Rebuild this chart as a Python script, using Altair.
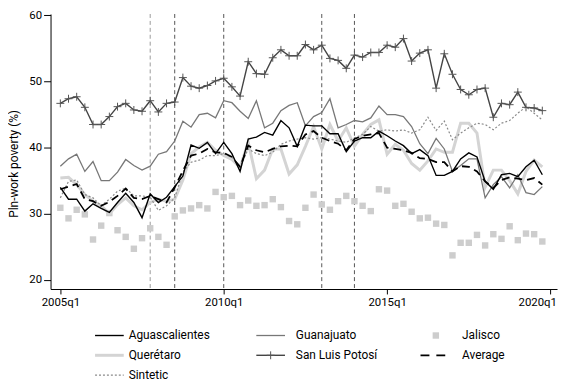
import altair as alt
import pandas as pd

# ---------------- data ----------------
quarters = [f"{y}q{q}" for y in range(2005, 2020) for q in range(1, 5)]
tick_index = [0, 20, 40, 60]
tick_labels = ["2005q1", "2010q1", "2015q1", "2020q1"]
y_ticks = [20, 30, 40, 50, 60]
event_index = [11, 14, 20, 32, 36]
event_colors = ["#9a9a9a", "#555555", "#555555", "#555555", "#555555"]

aguascalientes = [34.0, 32.2, 32.2, 30.4, 31.5, 30.8, 30.2, 31.7, 33.1, 31.7,
                  29.4, 33.0, 31.7, 32.5, 34.1, 35.7, 40.4, 39.9, 40.8, 39.1,
                  40.8, 39.1, 36.4, 41.3, 41.6, 42.3, 41.9, 44.1, 43.0, 40.2,
                  43.4, 43.3, 43.3, 42.1, 42.1, 39.4, 41.0, 41.5, 41.5, 42.5,
                  41.8, 41.0, 40.3, 39.1, 39.7, 38.8, 35.8, 35.8, 36.4, 38.3,
                  39.2, 38.6, 34.9, 33.7, 35.9, 36.1, 35.6, 37.1, 38.1, 35.9]
guanajuato = [37.2, 38.3, 39.0, 36.4, 37.9, 35.0, 35.0, 36.3, 38.2, 37.3,
              36.6, 37.2, 39.0, 39.4, 41.0, 44.0, 43.1, 45.0, 45.2, 44.5,
              47.1, 46.8, 45.5, 44.4, 47.1, 43.0, 43.7, 45.6, 46.4, 46.8,
              43.3, 44.7, 45.3, 47.4, 43.0, 43.5, 44.1, 43.9, 44.5, 46.3,
              45.0, 45.0, 44.7, 43.2, 40.6, 39.1, 41.4, 39.8, 36.4, 37.3,
              38.3, 38.3, 32.4, 34.4, 35.6, 33.9, 35.9, 33.2, 32.9, 34.1]
jalisco = [30.9, 29.3, 30.6, 29.9, 26.1, 28.2, 30.1, 27.5, 26.5, 24.7,
           26.3, 27.8, 26.5, 25.3, 29.6, 30.5, 30.8, 31.3, 30.8, 33.3,
           32.5, 32.7, 31.3, 32.0, 31.2, 31.3, 32.2, 31.0, 28.9, 28.4,
           30.9, 32.9, 31.4, 30.6, 31.9, 32.7, 31.9, 31.2, 30.4, 33.7,
           33.5, 31.2, 31.5, 30.3, 29.3, 29.4, 28.5, 28.3, 23.7, 25.6,
           25.6, 26.8, 25.2, 26.9, 26.2, 28.1, 26.0, 27.0, 26.9, 25.8]
queretaro = [35.4, 35.5, 34.4, 32.9, 31.9, 31.2, 30.0, 31.4, 32.4, 31.2,
             30.6, 31.7, 32.2, 31.9, 32.2, 35.1, 39.1, 40.1, 40.8, 39.6,
             38.8, 38.2, 37.0, 40.8, 35.3, 36.6, 39.8, 39.8, 36.0, 37.4,
             40.2, 43.2, 39.8, 43.5, 41.0, 43.0, 40.2, 42.0, 43.5, 44.2,
             39.0, 40.5, 39.6, 37.6, 36.6, 38.0, 39.8, 39.3, 39.3, 43.7,
             43.7, 42.2, 34.0, 36.6, 36.6, 35.0, 33.0, 36.4, 38.1, 37.1]
san_luis_potosi = [46.7, 47.4, 47.7, 46.1, 43.5, 43.5, 44.7, 46.2, 46.7, 45.7,
                   45.5, 47.1, 45.4, 46.7, 46.9, 50.6, 49.3, 49.0, 49.4, 50.1,
                   50.5, 49.2, 47.8, 53.0, 51.2, 51.1, 53.6, 54.8, 53.9, 53.9,
                   55.6, 54.8, 55.5, 53.5, 53.2, 52.0, 54.0, 53.7, 54.4, 54.4,
                   55.5, 55.2, 56.5, 53.1, 54.3, 54.8, 49.0, 54.2, 51.1, 48.8,
                   48.0, 48.8, 49.0, 44.6, 46.7, 46.5, 48.4, 46.1, 46.0, 45.6]
average = [33.7, 34.1, 34.5, 32.2, 31.9, 31.2, 31.8, 32.7, 33.8, 32.4,
           32.2, 32.7, 32.2, 31.7, 34.0, 36.5, 38.8, 39.1, 39.8, 39.3,
           39.2, 38.6, 37.1, 40.3, 39.6, 39.3, 39.8, 40.2, 40.3, 40.2,
           42.0, 42.5, 41.5, 41.0, 40.6, 39.6, 41.3, 41.8, 42.0, 42.2,
           40.0, 39.8, 39.6, 39.2, 38.4, 38.3, 37.8, 37.8, 36.4, 37.2,
           37.1, 36.4, 34.9, 33.9, 35.1, 35.5, 35.3, 35.1, 35.4, 34.4]
sintetic = [32.4, 34.9, 35.1, 32.9, 32.4, 31.2, 32.2, 33.4, 33.9, 32.7,
            32.7, 32.5, 30.5, 31.2, 32.4, 36.3, 37.8, 38.1, 38.8, 38.8,
            39.1, 38.6, 37.1, 39.8, 39.1, 38.8, 39.3, 40.5, 41.0, 41.3,
            41.5, 41.3, 41.5, 41.3, 41.0, 40.8, 41.5, 42.0, 43.2, 42.5,
            42.7, 42.5, 42.7, 42.2, 42.7, 44.6, 42.6, 44.0, 41.2, 42.2,
            43.0, 43.7, 43.5, 42.7, 43.7, 44.1, 45.2, 46.2, 45.2, 44.2]

legend_labels = ["Aguascalientes", "Guanajuato", "Jalisco",
                 "Querétaro", "San Luis Potosí", "Average", "Sintetic"]

# ---------------- styling ----------------
FONT = "Roboto"
W, H = 512, 278

label_expr = "[" + ",".join(f"'{s}'" for s in tick_labels) + "][round(datum.value/20)]"

x_scale = alt.Scale(domain=[-1.2, 60.8], nice=False, zero=False)
y_scale = alt.Scale(domain=[18.61, 60.22], nice=False, zero=False)

x_axis = alt.Axis(values=tick_index, labelExpr=label_expr, title=None, grid=False,
                  tickSize=5, labelPadding=3, domainColor="#000", tickColor="#000",
                  labelFont=FONT, labelFontSize=11.5, labelColor="#000",
                  labelFlush=8, labelFlushOffset=6,
                  domainWidth=1, tickWidth=1)
y_axis = alt.Axis(values=y_ticks, title="Pln-work poverty (%)", grid=False,
                  tickSize=7, labelPadding=2, domainColor="#000", tickColor="#000",
                  labelFont=FONT, labelFontSize=11.5, labelColor="#000",
                  titleFont=FONT, titleFontSize=12, titleFontWeight="normal",
                  titleColor="#000", titleX=-33, titleY=151, titleAngle=270,
                  titleBaseline="alphabetic", titleAlign="center",
                  domainWidth=1, tickWidth=1)

X = alt.X("t:Q", scale=x_scale, axis=x_axis)
Y = alt.Y("v:Q", scale=y_scale, axis=y_axis)


def frame(values):
    return pd.DataFrame({"t": list(range(len(values))),
                         "quarter": quarters[:len(values)], "v": values})


def line(values, **style):
    return alt.Chart(frame(values)).mark_line(**style).encode(x=X, y=Y)


vlines = alt.Chart(pd.DataFrame({"t": event_index, "c": event_colors})).mark_rule(
    strokeDash=[4, 3], strokeWidth=1).encode(x=X, color=alt.Color("c:N", scale=None))

PLUS = "M-1,0L1,0M0,-1L0,1"

layers = [
    vlines,
    alt.Chart(frame(jalisco)).mark_square(size=42, color="#cdcdcd", opacity=1).encode(x=X, y=Y),
    line(queretaro, color="#d4d4d4", strokeWidth=3),
    line(guanajuato, color="#777777", strokeWidth=1.3),
    line(sintetic, color="#8a8a8a", strokeWidth=1.2, strokeDash=[2, 2]),
    line(san_luis_potosi, color="#444444", strokeWidth=1.4),
    alt.Chart(frame(san_luis_potosi)).mark_point(shape=PLUS, size=64, filled=False,
                                                 color="#555555", strokeWidth=1,
                                                 opacity=1).encode(x=X, y=Y),
    line(average, color="#000000", strokeWidth=1.8, strokeDash=[8, 5]),
    line(aguascalientes, color="#000000", strokeWidth=1.4),
]

# ---------------- legend (3 columns, drawn below plot) ----------------
col_line = [(45, 74), (208, 237), (374, 401)]
col_text = [79, 248, 416]
row_y = [325, 345, 365]


def leg_rule(x1, x2, y, **style):
    return alt.Chart(pd.DataFrame({"k": [0]})).mark_rule(**style).encode(
        x=alt.value(x1), x2=alt.value(x2), y=alt.value(y))


def leg_text(name, x, y):
    return alt.Chart(pd.DataFrame({"label": [name]})).mark_text(
        align="left", baseline="middle", font=FONT, fontSize=12, color="#000").encode(
        x=alt.value(x), y=alt.value(y), text="label:N")


positions = {
    "Aguascalientes": (0, 0), "Guanajuato": (1, 0), "Jalisco": (2, 0),
    "Querétaro": (0, 1), "San Luis Potosí": (1, 1), "Average": (2, 1),
    "Sintetic": (0, 2),
}
for name in legend_labels:
    c, r = positions[name]
    x1, x2 = col_line[c]
    y = row_y[r]
    if name == "Aguascalientes":
        layers.append(leg_rule(x1, x2, y, color="#000", strokeWidth=1.4))
    elif name == "Guanajuato":
        layers.append(leg_rule(x1, x2, y, color="#777777", strokeWidth=1.3))
    elif name == "Querétaro":
        layers.append(leg_rule(x1, x2, y, color="#d4d4d4", strokeWidth=3))
    elif name == "San Luis Potosí":
        layers.append(leg_rule(x1, x2, y, color="#444444", strokeWidth=1.4))
        layers.append(alt.Chart(pd.DataFrame({"k": [0]})).mark_point(
            shape=PLUS, size=64, filled=False, color="#555555", strokeWidth=1,
            opacity=1).encode(x=alt.value((x1 + x2) / 2), y=alt.value(y)))
    elif name == "Average":
        layers.append(leg_rule(x1, x2, y, color="#000", strokeWidth=1.8, strokeDash=[9, 7]))
    elif name == "Sintetic":
        layers.append(leg_rule(x1, x2, y, color="#8a8a8a", strokeWidth=1.2, strokeDash=[2, 2]))
    elif name == "Jalisco":
        layers.append(alt.Chart(pd.DataFrame({"k": [0]})).mark_square(
            size=42, color="#cdcdcd", opacity=1).encode(
            x=alt.value((x1 + x2) / 2 + 2), y=alt.value(y)))
    layers.append(leg_text(name, col_text[c], y))

chart = alt.layer(*layers).properties(
    width=W, height=H,
    autosize=alt.AutoSizeParams(type="none"),
    padding={"left": 43, "top": 4, "right": 3, "bottom": 98},
    background="white",
).configure_view(stroke=None)

chart.save("out.html", embed_options={"renderer": "svg", "actions": False})
